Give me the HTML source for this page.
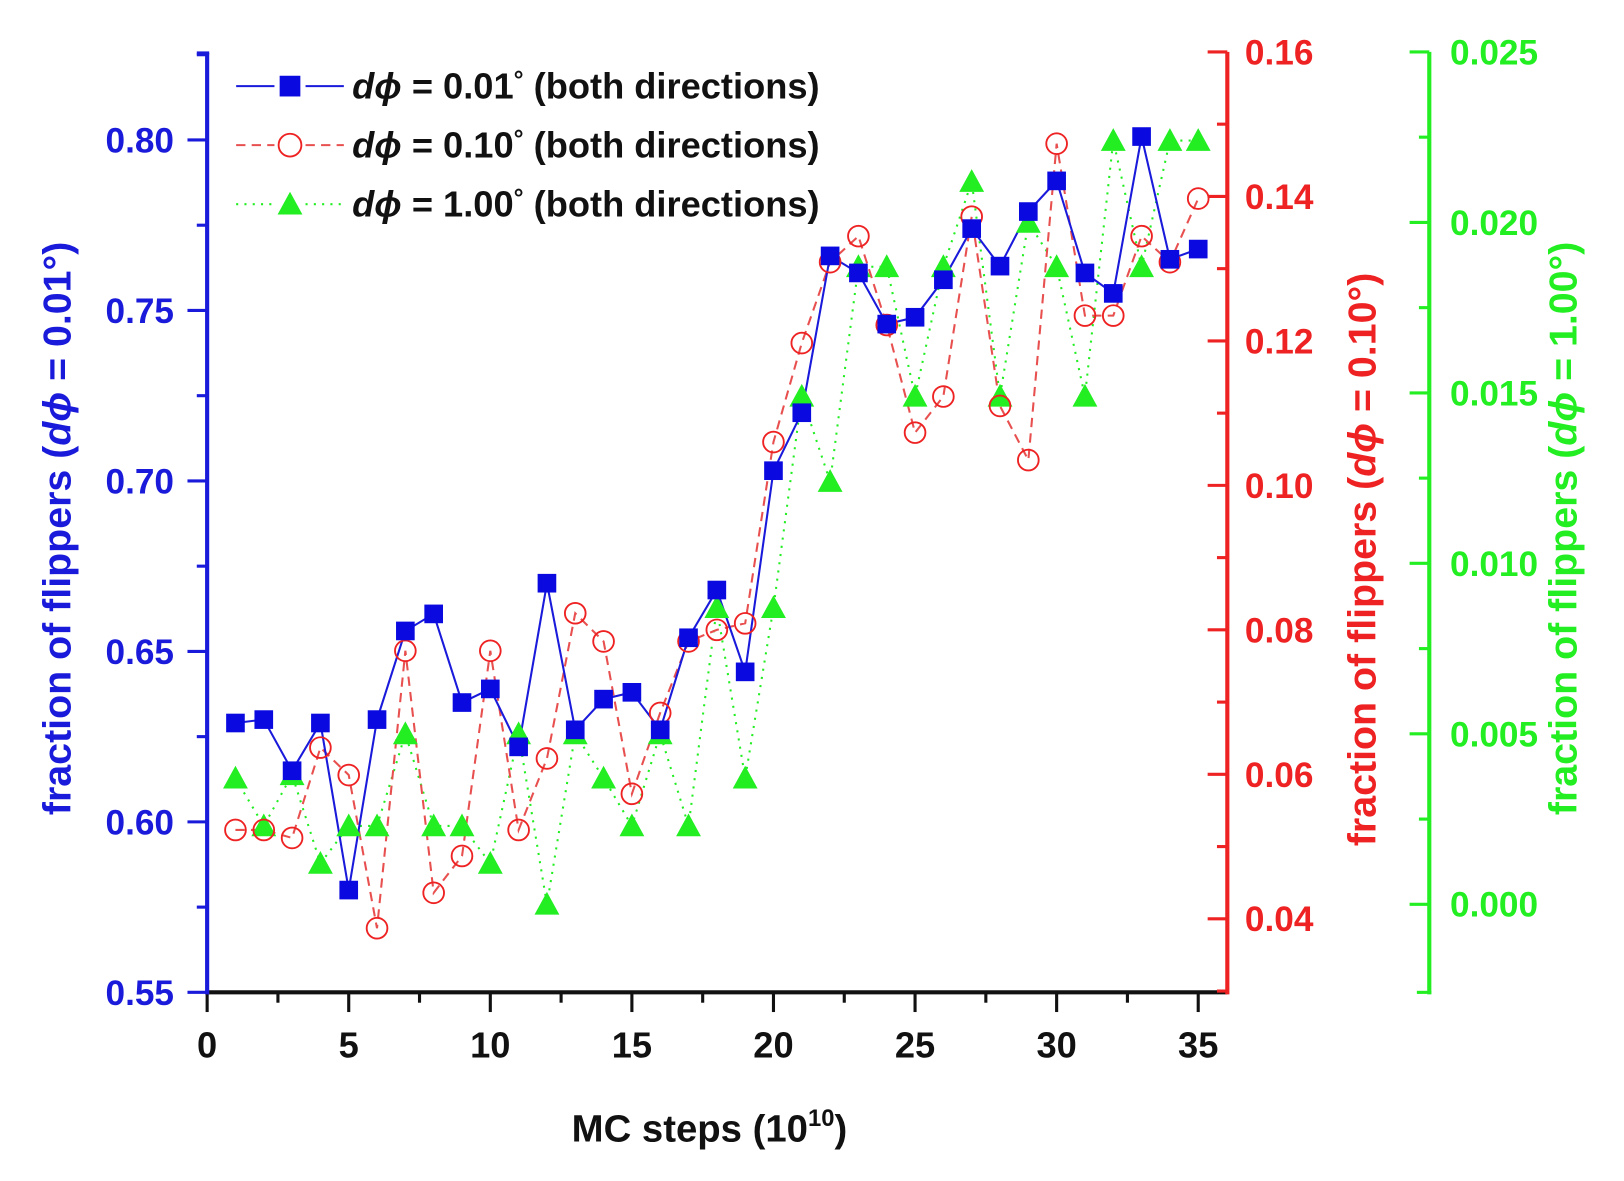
<!DOCTYPE html>
<html><head><meta charset="utf-8"><style>
html,body{margin:0;padding:0;background:#fff;}
svg{display:block;font-family:"Liberation Sans",Arial,sans-serif;font-weight:bold;}
</style></head><body>
<svg id="chart" width="1624" height="1181" viewBox="0 0 1568 1140" xmlns="http://www.w3.org/2000/svg">
<g id="axes"></g>
<g id="series"></g>
<g id="legend"></g>
</svg>
<script>
const steps = [1,2,3,4,5,6,7,8,9,10,11,12,13,14,15,16,17,18,19,20,21,22,23,24,25,26,27,28,29,30,31,32,33,34,35];
const blueVals = [0.629,0.630,0.615,0.629,0.580,0.630,0.656,0.661,0.635,0.639,0.622,0.670,0.627,0.636,0.638,0.627,0.654,0.668,0.644,0.703,0.720,0.766,0.761,0.746,0.748,0.759,0.774,0.763,0.779,0.788,0.761,0.755,0.801,0.765,0.768];
const redVals = [0.0523,0.0523,0.0512,0.0637,0.0599,0.0387,0.0771,0.0436,0.0487,0.0771,0.0523,0.0622,0.0823,0.0784,0.0573,0.0685,0.0784,0.0800,0.0809,0.1060,0.1197,0.1309,0.1345,0.1222,0.1073,0.1123,0.1372,0.1110,0.1035,0.1473,0.1235,0.1235,0.1345,0.1309,0.1397];
const greenVals = [0.0037,0.0023,0.0038,0.0012,0.0023,0.0023,0.0050,0.0023,0.0023,0.0012,0.0050,0.0000,0.0050,0.0037,0.0023,0.0050,0.0023,0.0087,0.0037,0.0087,0.0149,0.0124,0.0187,0.0187,0.0149,0.0187,0.0212,0.0149,0.0200,0.0187,0.0149,0.0224,0.0187,0.0224,0.0224];
const xTicks = [0,5,10,15,20,25,30,35];
const blueTicks = ["0.55","0.60","0.65","0.70","0.75","0.80"];
const redTicks = ["0.04","0.06","0.08","0.10","0.12","0.14","0.16"];
const greenTicks = ["0.000","0.005","0.010","0.015","0.020","0.025"];

const NS="http://www.w3.org/2000/svg";
const X=v=>200+v*27.34;
const YB=v=>958-(v-0.55)/0.05*164.6;
const YR=v=>887-(v-0.04)/0.12*837;
const YG=v=>873-v/0.025*823;
const BLUE="#1a1adb",RED="#ee2222",GREEN="#22ee22",RL="#e85050";
function mk(tag,attrs,parent,text){const e=document.createElementNS(NS,tag);for(const k in attrs)e.setAttribute(k,attrs[k]);if(text!==undefined)e.textContent=text;parent.appendChild(e);return e;}
const axes=document.getElementById('axes'),ser=document.getElementById('series'),leg=document.getElementById('legend');

let e=mk('line',{x1:200,y1:958,x2:1185,y2:958,stroke:'#111','stroke-width':4},axes);


for(let v=0;v<=35;v+=2.5){const maj=v%5===0;mk('line',{x1:X(v),y1:958,x2:X(v),y2:958+(maj?19:10),stroke:'#111','stroke-width':3},axes);}
xTicks.forEach(v=>{e=mk('text',{x:X(v),y:1021,'text-anchor':'middle','font-size':35,fill:'#111'},axes,String(v));

});
e=mk('text',{x:685,y:1102,'text-anchor':'middle','font-size':37,fill:'#111'},axes);


e.innerHTML='MC steps (10<tspan dy="-15" font-size="23">10</tspan><tspan dy="15">)</tspan>';

e=mk('line',{x1:200,y1:51,x2:200,y2:960,stroke:BLUE,'stroke-width':4},axes);


mk('line',{x1:190,y1:51,x2:202,y2:51,stroke:BLUE,'stroke-width':3},axes);
for(let v=0.55;v<=0.8251;v+=0.025){const maj=Math.round(v*1000)%50===0;mk('line',{x1:200-(maj?19:10),y1:YB(v),x2:200,y2:YB(v),stroke:BLUE,'stroke-width':3},axes);}
blueTicks.forEach(t=>{e=mk('text',{x:168,y:YB(+t)+12,'text-anchor':'end','font-size':34,fill:BLUE},axes,t);

});
e=mk('text',{transform:'translate(68,510) rotate(-90)','text-anchor':'middle','font-size':38,fill:BLUE},axes);


e.innerHTML='fraction of flippers (<tspan font-style="italic">dϕ</tspan> = 0.01°)';

e=mk('line',{x1:1185,y1:50,x2:1185,y2:960,stroke:RED,'stroke-width':4},axes);


for(let v=0.03;v<=0.1601;v+=0.01){const maj=Math.round(v*100)%2===0;mk('line',{x1:1185-(maj?19:10),y1:YR(v),x2:1185,y2:YR(v),stroke:RED,'stroke-width':3},axes);}
redTicks.forEach(t=>{e=mk('text',{x:1202,y:YR(+t)+12,'font-size':34,fill:RED},axes,t);

});
e=mk('text',{transform:'translate(1328,540) rotate(-90)','text-anchor':'middle','font-size':38,fill:RED},axes);


e.innerHTML='fraction of flippers (<tspan font-style="italic">dϕ</tspan> = 0.10°)';

e=mk('line',{x1:1380,y1:50,x2:1380,y2:960,stroke:GREEN,'stroke-width':4},axes);


mk('line',{x1:1368,y1:958,x2:1382,y2:958,stroke:GREEN,'stroke-width':3},axes);
for(let v=0;v<=0.02501;v+=0.0025){const maj=Math.round(v*10000)%50===0;mk('line',{x1:1380-(maj?19:10),y1:YG(v),x2:1380,y2:YG(v),stroke:GREEN,'stroke-width':3},axes);}
greenTicks.forEach(t=>{e=mk('text',{x:1400,y:YG(+t)+12,'font-size':34,fill:GREEN},axes,t);

});
e=mk('text',{transform:'translate(1522,510) rotate(-90)','text-anchor':'middle','font-size':38,fill:GREEN},axes);


e.innerHTML='fraction of flippers (<tspan font-style="italic">dϕ</tspan> = 1.00°)';

function path(vals,Y){return vals.map((v,i)=>(i?'L':'M')+X(steps[i]).toFixed(1)+','+Y(v).toFixed(1)).join(' ');}
e=mk('path',{d:path(greenVals,YG),fill:'none',stroke:GREEN,'stroke-width':2,'stroke-dasharray':'2,6'},ser);


e=mk('path',{d:path(redVals,YR),fill:'none',stroke:RL,'stroke-width':2,'stroke-dasharray':'9,6'},ser);


e=mk('path',{d:path(blueVals,YB),fill:'none',stroke:BLUE,'stroke-width':2},ser);


function tri(cx,cy,p){return mk('polygon',{points:`${cx},${cy-12} ${cx-12},${cy+10} ${cx+12},${cy+10}`,fill:GREEN},p);}
greenVals.forEach((v,i)=>{e=tri(X(steps[i]),YG(v),ser);

});
redVals.forEach((v,i)=>{e=mk('circle',{cx:X(steps[i]),cy:YR(v),r:10,fill:'none',stroke:RED,'stroke-width':1.8},ser);

});
blueVals.forEach((v,i)=>{e=mk('rect',{x:X(steps[i])-9,y:YB(v)-9,width:18,height:18,fill:'#0a0ae0'},ser);

});

const legLabels=["0.01","0.10","1.00"];
const rows=[83,140,197];
rows.forEach((y,i)=>{
  const g=mk('g',{},leg);
  
  
  if(i===0){mk('line',{x1:228,y1:y,x2:265,y2:y,stroke:BLUE,'stroke-width':2},g);mk('line',{x1:295,y1:y,x2:332,y2:y,stroke:BLUE,'stroke-width':2},g);mk('rect',{x:270,y:y-10,width:20,height:20,fill:'#0a0ae0'},g);}
  if(i===1){mk('line',{x1:228,y1:y,x2:265,y2:y,stroke:RL,'stroke-width':2,'stroke-dasharray':'9,6'},g);mk('line',{x1:295,y1:y,x2:332,y2:y,stroke:RL,'stroke-width':2,'stroke-dasharray':'9,6'},g);mk('circle',{cx:280,cy:y,r:11,fill:'none',stroke:RED,'stroke-width':1.8},g);}
  if(i===2){mk('line',{x1:228,y1:y,x2:265,y2:y,stroke:GREEN,'stroke-width':2,'stroke-dasharray':'2,6'},g);mk('line',{x1:295,y1:y,x2:332,y2:y,stroke:GREEN,'stroke-width':2,'stroke-dasharray':'2,6'},g);tri(280,y,g);}
  const t=mk('text',{x:340,y:y+12,'font-size':35,fill:'#111'},g);
  t.innerHTML='<tspan font-style="italic">dϕ</tspan> = '+legLabels[i]+'<tspan dy="-10" font-size="24">°</tspan><tspan dy="10"> (both directions)</tspan>';
});
</script>
</body></html>
